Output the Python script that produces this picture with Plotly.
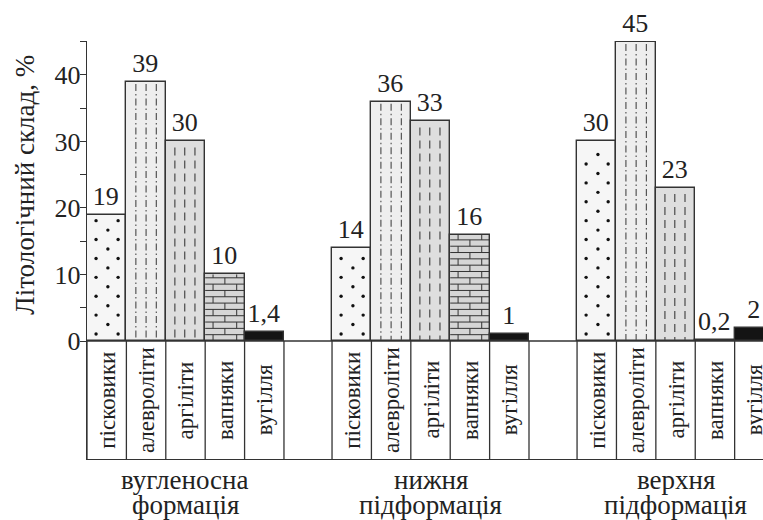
import plotly.graph_objects as go

# Lithology shares (%) for each rock type in three stratigraphic units
rocks = ["пісковики", "алевроліти", "аргіліти", "вапняки", "вугілля"]
group_names = [("вугленосна", "формація"), ("нижня", "підформація"), ("верхня", "підформація")]
coal_bearing = [19, 39, 30, 10, 1.4]
lower_sub = [14, 36, 33, 16, 1]
upper_sub = [30, 45, 23, 0.2, 2]
y_ticks = [0, 10, 20, 30, 40]
y_minor = [5, 15, 25, 35, 45]

series = [coal_bearing, lower_sub, upper_sub]

GAP = 1.22            # empty column between groups (in bar widths)
X_MAX = 17.16
Y_MIN, Y_MAX = -17.74, 45.1
FONT = "'Times New Roman', 'Liberation Serif', 'DejaVu Serif', serif"
INK = "#222222"
EDGE = "#333333"
fills = ["#f6f6f6", "#eeeeee", "#dedede", "#d6d6d6", "#141414"]


def group_start(g):
    return g * (5 + GAP)


def sandstone_dots(cx, h):
    px, py = [], []
    y, row = 1.05, 0
    while y < h - 0.7:
        offs = (-0.27, 0.29) if row % 2 == 0 else (0.03,)
        for o in offs:
            px.append(cx + o)
            py.append(y)
        y += 1.42
        row += 1
    return px, py


def strokes(cx, h, offsets, top_gap):
    lx, ly = [], []
    for o in offsets:
        lx += [cx + o, cx + o, None]
        ly += [h - top_gap, 0.15, None]
    return lx, ly


def bricks(cx, h, step=0.95):
    lx, ly = [], []
    y, k = 0.0, 0
    while y < h - 0.05:
        top = min(y + step, h)
        if top < h:
            lx += [cx - 0.5, cx + 0.5, None]
            ly += [top, top, None]
        joints = (-0.3, 0.3) if k % 2 == 0 else (0.0,)
        for j in joints:
            lx += [cx + j, cx + j, None]
            ly += [y, top, None]
        y = top
        k += 1
    return lx, ly


xs, ys, cols, labels = [], [], [], []
for g, vals in enumerate(series):
    for i, v in enumerate(vals):
        xs.append(group_start(g) + i + 0.5)
        ys.append(v)
        cols.append(fills[i])
        labels.append(f"{v:g}".replace(".", ","))

fig = go.Figure()
fig.add_trace(go.Bar(
    x=xs, y=ys, width=1,
    marker=dict(color=cols, line=dict(color=EDGE, width=1.4)),
    text=labels, textposition="outside", constraintext="none",
    textfont=dict(family=FONT, size=26, color=INK),
    cliponaxis=False, hoverinfo="skip", showlegend=False,
))

# textures drawn over the bar fills
dot_x, dot_y = [], []
silt_x, silt_y = [], []
clay_x, clay_y = [], []
brick_x, brick_y = [], []
for g, vals in enumerate(series):
    s = group_start(g)
    px, py = sandstone_dots(s + 0.5, vals[0])
    dot_x += px; dot_y += py
    lx, ly = strokes(s + 1.5, vals[1], (-0.26, 0.0, 0.26), 0.35)
    silt_x += lx; silt_y += ly
    lx, ly = strokes(s + 2.5, vals[2], (-0.27, -0.02, 0.24), 0.9)
    clay_x += lx; clay_y += ly
    lx, ly = bricks(s + 3.5, vals[3])
    brick_x += lx; brick_y += ly

fig.add_trace(go.Scatter(x=dot_x, y=dot_y, mode="markers",
                         marker=dict(size=3.4, color="#111"),
                         hoverinfo="skip", showlegend=False))
fig.add_trace(go.Scatter(x=silt_x, y=silt_y, mode="lines",
                         line=dict(color="#555", width=1.2, dash="7px,3px,1.5px,3px"),
                         hoverinfo="skip", showlegend=False))
fig.add_trace(go.Scatter(x=clay_x, y=clay_y, mode="lines",
                         line=dict(color="#555", width=1.3, dash="8px,5px"),
                         hoverinfo="skip", showlegend=False))
fig.add_trace(go.Scatter(x=brick_x, y=brick_y, mode="lines",
                         line=dict(color="#333", width=1),
                         hoverinfo="skip", showlegend=False))

# table beneath the bars: zero line and cell dividers
shapes = [dict(type="line", xref="x", yref="y", x0=0, x1=X_MAX, y0=0, y1=0,
               line=dict(color=EDGE, width=1.4), layer="above")]
for g in range(3):
    s = group_start(g)
    for k in range(6):
        shapes.append(dict(type="line", xref="x", yref="y", x0=s + k, x1=s + k,
                           y0=0, y1=Y_MIN, line=dict(color=EDGE, width=1.3), layer="above"))

annotations = []
for g in range(3):
    s = group_start(g)
    for i, name in enumerate(rocks):
        annotations.append(dict(x=s + i + 0.5, y=Y_MIN / 2, xref="x", yref="y",
                                text=name, textangle=-90, showarrow=False,
                                font=dict(family=FONT, size=23, color=INK)))
    for j, line in enumerate(group_names[g]):
        annotations.append(dict(x=s + 2.5, y=0, xref="x", yref="paper",
                                yanchor="middle", yshift=-21 - 25 * j,
                                text=line, showarrow=False,
                                font=dict(family=FONT, size=27, color=INK)))

annotations.append(dict(x=0, xref="paper", xanchor="center", xshift=-62,
                        y=23.5, yref="y", yanchor="middle",
                        text="Літологічний склад, %", textangle=-90, showarrow=False,
                        font=dict(family=FONT, size=27, color=INK)))

fig.update_layout(
    width=763, height=520,
    margin=dict(l=87, r=0, t=41, b=61),
    paper_bgcolor="white", plot_bgcolor="white",
    bargap=0,
    shapes=shapes, annotations=annotations,
    xaxis=dict(range=[0, X_MAX], showgrid=False, zeroline=False,
               showticklabels=False, ticks="", showline=True,
               linecolor=EDGE, linewidth=1.3, fixedrange=True),
    yaxis=dict(range=[Y_MIN, Y_MAX], showgrid=False, zeroline=False,
               tickvals=y_ticks + y_minor,
               ticktext=[str(t) for t in y_ticks] + [""] * len(y_minor),
               ticks="outside", ticklen=6, tickwidth=1.3, tickcolor=EDGE,
               ticklabelstandoff=-6,
               showline=True, linecolor=EDGE, linewidth=1.4,
               tickfont=dict(family=FONT, size=26, color=INK), fixedrange=True),
)

fig.write_html("out.html")
